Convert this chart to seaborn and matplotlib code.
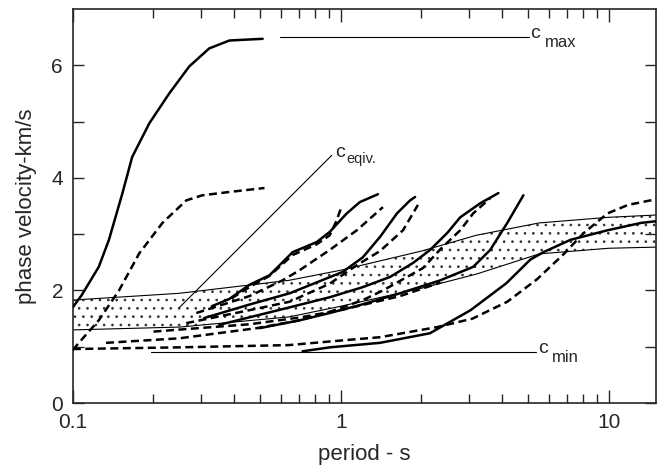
import matplotlib
matplotlib.use("Agg")
import matplotlib.pyplot as plt
import matplotlib.ticker as mticker
import seaborn as sns
import numpy as np

# period (s) / phase velocity (km/s)
s0_x = [0.1, 0.108, 0.125, 0.1364, 0.153, 0.1665, 0.193, 0.229, 0.272, 0.323, 0.384, 0.511]
s0_y = [1.70, 1.92, 2.42, 2.90, 3.72, 4.37, 4.97, 5.50, 5.98, 6.30, 6.44, 6.47]
d0_x = [0.1, 0.1053, 0.125, 0.1487, 0.177, 0.216, 0.265, 0.304, 0.384, 0.519]
d0_y = [0.94, 1.07, 1.47, 2.0, 2.66, 3.2, 3.6, 3.69, 3.75, 3.82]

s1_x = [0.33, 0.384, 0.456, 0.542, 0.661, 0.813, 0.909, 1.053, 1.178, 1.376]
s1_y = [1.72, 1.85, 2.1, 2.27, 2.68, 2.86, 3.04, 3.37, 3.57, 3.71]
d1a_x = [0.391, 0.456, 0.542, 0.661, 0.813, 0.909, 0.958, 1.009]
d1a_y = [1.86, 2.06, 2.26, 2.63, 2.82, 2.98, 3.21, 3.5]
d1b_x = [0.289, 0.456, 0.606, 0.702, 0.909, 1.148, 1.436]
d1b_y = [1.6, 1.9, 2.18, 2.36, 2.72, 3.07, 3.48]

s2_x = [0.309, 0.456, 0.644, 1.017, 1.209, 1.40, 1.621, 1.813, 1.893]
s2_y = [1.51, 1.75, 1.95, 2.33, 2.59, 2.95, 3.37, 3.6, 3.66]
d2_x = [0.265, 0.456, 0.644, 0.909, 1.148, 1.40, 1.707, 1.94]
d2_y = [1.42, 1.65, 1.8, 2.12, 2.45, 2.7, 3.07, 3.52]

s3_x = [0.352, 0.644, 0.909, 1.209, 1.526, 1.861, 2.154, 2.494, 2.791, 3.316, 3.873]
s3_y = [1.39, 1.70, 1.88, 2.06, 2.24, 2.49, 2.72, 3.02, 3.3, 3.55, 3.73]
d3_x = [0.133, 0.249, 0.484, 0.702, 0.909, 1.209, 1.436, 2.028, 2.35, 2.79, 3.12, 3.61]
d3_y = [1.07, 1.15, 1.33, 1.47, 1.62, 1.83, 2.0, 2.4, 2.73, 3.07, 3.37, 3.64]

s4_x = [0.497, 0.702, 0.909, 1.178, 1.663, 2.35, 3.12, 3.61, 4.18, 4.80]
s4_y = [1.33, 1.47, 1.60, 1.74, 1.95, 2.18, 2.42, 2.72, 3.2, 3.69]
d4_x = [0.2, 0.456, 0.702, 1.017, 1.663, 2.35]
d4_y = [1.27, 1.40, 1.52, 1.66, 1.90, 2.14]

s5_x = [0.72, 0.91, 1.4, 2.15, 3.05, 4.15, 5.1, 5.7, 7.2, 9.9, 13.2, 15]
s5_y = [0.92, 0.99, 1.07, 1.24, 1.65, 2.13, 2.55, 2.68, 2.9, 3.07, 3.2, 3.23]
d5_x = [0.1, 0.25, 0.64, 1.05, 1.4, 2.29, 3.1, 4.18, 5.4, 6.8, 8.06, 9.9, 11.8, 15]
d5_y = [0.96, 0.99, 1.03, 1.12, 1.17, 1.35, 1.5, 1.8, 2.2, 2.65, 3.02, 3.37, 3.52, 3.62]

# dotted band
band_x = [0.1, 0.25, 0.64, 1.0, 2.0, 3.2, 5.5, 10, 15]
band_upper = [1.83, 1.95, 2.18, 2.36, 2.70, 2.98, 3.20, 3.30, 3.34]
band_lower = [1.30, 1.35, 1.53, 1.72, 2.04, 2.29, 2.65, 2.75, 2.77]

cmax_x = [0.591, 5.02]
cmax_y = [6.5, 6.5]
cmin_x = [0.196, 5.35]
cmin_y = [0.9, 0.9]
ceq_x = [0.249, 0.925]
ceq_y = [1.69, 4.40]

plt.rcdefaults()
sns.set_style("ticks")
plt.rcParams['font.family'] = ['Liberation Sans', 'DejaVu Sans']
plt.rcParams.update({
    'hatch.linewidth': 0.7,
    'axes.axisbelow': False,
    'xtick.direction': 'in', 'ytick.direction': 'in',
    'xtick.top': True, 'ytick.right': True,
    'xtick.major.size': 9.5, 'xtick.minor.size': 6.5,
    'ytick.major.size': 8, 'ytick.minor.size': 8,
    'xtick.major.width': 1.0, 'xtick.minor.width': 1.0,
    'ytick.major.width': 1.0, 'ytick.minor.width': 1.0,
    'xtick.labelsize': 15, 'ytick.labelsize': 15,
})

fig = plt.figure(figsize=(6.68, 4.72), dpi=100)
ax = fig.add_axes([0.109, 0.146, 0.873, 0.835])
ax.set_xscale('log')

ax.fill_between(band_x, band_lower, band_upper, facecolor='white',
                edgecolor='#333333', hatch='..', linewidth=0, zorder=1)
for yy in (band_upper, band_lower):
    sns.lineplot(x=band_x, y=yy, ax=ax, color='black', lw=0.8, sort=False,
                 estimator=None, zorder=2)

for xx, yy in [(cmax_x, cmax_y), (cmin_x, cmin_y), (ceq_x, ceq_y)]:
    sns.lineplot(x=xx, y=yy, ax=ax, color='black', lw=0.8, sort=False,
                 estimator=None, zorder=2)

solid = [(s0_x, s0_y), (s1_x, s1_y), (s2_x, s2_y), (s3_x, s3_y),
         (s4_x, s4_y), (s5_x, s5_y)]
dashed = [(d0_x, d0_y), (d1a_x, d1a_y), (d1b_x, d1b_y), (d2_x, d2_y),
          (d3_x, d3_y), (d4_x, d4_y), (d5_x, d5_y)]
for xx, yy in solid:
    sns.lineplot(x=xx, y=yy, ax=ax, color='black', lw=1.8, sort=False,
                 estimator=None, zorder=3)
for xx, yy in dashed:
    sns.lineplot(x=xx, y=yy, ax=ax, color='black', lw=1.8, sort=False,
                 estimator=None, zorder=3, linestyle=(0, (3.2, 1.8)))

# labels c_max, c_min, c_eqiv. (letter + smaller subscript)
for lx, ly, sub, sfs, dx, dy in [(5.1, 6.48, 'max', 12, 10.5, -6.5),
                                 (5.47, 0.89, 'min', 12, 9.5, -6.5),
                                 (0.95, 4.37, 'eqiv.', 10.5, 8.5, -4.5)]:
    ax.text(lx, ly, 'c', fontsize=14, va='baseline', ha='left')
    ax.annotate(sub, xy=(lx, ly), xytext=(dx, dy), textcoords='offset points',
                fontsize=sfs, va='baseline', ha='left')

ax.set_xlim(0.1, 15)
ax.set_ylim(0, 7)
ax.xaxis.set_major_locator(mticker.FixedLocator([0.1, 1, 10]))
ax.xaxis.set_major_formatter(mticker.FixedFormatter(['0.1', '1', '10']))
ax.xaxis.set_minor_locator(mticker.LogLocator(base=10, subs=np.arange(2, 10), numticks=20))
ax.xaxis.set_minor_formatter(mticker.NullFormatter())
ax.yaxis.set_major_locator(mticker.FixedLocator([0, 2, 4, 6]))
ax.yaxis.set_minor_locator(mticker.FixedLocator([1, 3, 5]))
ax.tick_params(axis='both', which='major', pad=7)

for sp in ax.spines.values():
    sp.set_linewidth(1.2)

ax.set_xlabel('period - s', fontsize=16, labelpad=9)
ax.set_ylabel('phase velocity-km/s', fontsize=16, labelpad=10)

fig.savefig('out.png', dpi=100)
plt.close(fig)
